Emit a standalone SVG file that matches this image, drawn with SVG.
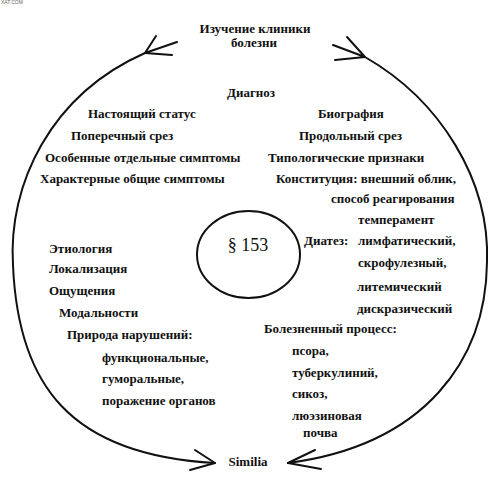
<svg xmlns="http://www.w3.org/2000/svg" width="500" height="477" viewBox="0 0 500 477">
<style>
.t{font-family:"Liberation Serif","Times New Roman",serif;font-size:13px;font-weight:bold;fill:#111}
.c{text-anchor:middle}
.ln{fill:none;stroke:#111;stroke-width:2;stroke-linecap:round}
.wm{font-family:"Liberation Sans",sans-serif;font-size:5px;fill:#666}
</style>
<rect width="500" height="477" fill="#fff"/>
<text class="wm" x="1" y="4">XAT.COM</text>
<g id="connectors">
<path class="ln" d="M145,53 C50,95 8,185 13,265 C18,385 70,455 215,463"/>
<path class="ln" d="M145,53 L156,36 M145,53 L177,42 M145,53 L172,55"/>
<path class="ln" d="M365,57 C440,100 490,180 487,262 C486,360 425,445 288,463"/>
<path class="ln" d="M365,57 L347,37 M365,57 L333,45 M365,57 L335,60"/>
<path class="ln" d="M215,463 L195,450 M215,463 L190,470"/>
<path class="ln" d="M288,463 L315,450 M288,463 L321,469"/>
</g>
<g id="top">
<text class="t c" x="255" y="33">Изучение клиники</text>
<text class="t c" x="254" y="47">болезни</text>
</g>
<g id="diagnosis"><text class="t c" x="251" y="97">Диагноз</text></g>
<g id="center">
<ellipse cx="248.5" cy="254.5" rx="51.5" ry="43.5" class="ln"/>
<text x="248" y="251" text-anchor="middle" style="font-family:'Liberation Serif','Times New Roman',serif;font-size:18px;fill:#111">§ 153</text>
</g>
<g id="left-top">
<text class="t" x="88" y="118">Настоящий статус</text>
<text class="t" x="71" y="140">Поперечный срез</text>
<text class="t" x="45" y="162">Особенные отдельные симптомы</text>
<text class="t" x="40" y="183">Характерные общие симптомы</text>
</g>
<g id="right-top">
<text class="t" x="318" y="118">Биография</text>
<text class="t" x="299" y="140">Продольный срез</text>
<text class="t" x="268" y="162">Типологические признаки</text>
<text class="t" x="276" y="183">Конституция: внешний облик,</text>
<text class="t" x="331" y="203">способ реагирования</text>
<text class="t" x="358" y="224">темперамент</text>
<text class="t" x="304" y="245">Диатез:</text>
<text class="t" x="358" y="245">лимфатический,</text>
<text class="t" x="358" y="267">скрофулезный,</text>
<text class="t" x="357" y="291">литемический</text>
<text class="t" x="357" y="313">дискразический</text>
</g>
<g id="left-bottom">
<text class="t" x="49" y="253">Этиология</text>
<text class="t" x="49" y="273">Локализация</text>
<text class="t" x="49" y="295">Ощущения</text>
<text class="t" x="59" y="317">Модальности</text>
<text class="t" x="67" y="339">Природа нарушений:</text>
<text class="t" x="102" y="362">функциональные,</text>
<text class="t" x="102" y="383">гуморальные,</text>
<text class="t" x="102" y="405">поражение органов</text>
</g>
<g id="right-bottom">
<text class="t" x="264" y="333">Болезненный процесс:</text>
<text class="t" x="292" y="355">псора,</text>
<text class="t" x="292" y="377">туберкулиний,</text>
<text class="t" x="292" y="398">сикоз,</text>
<text class="t" x="292" y="420">люэзиновая</text>
<text class="t" x="303" y="437">почва</text>
</g>
<g id="similia"><text class="t c" x="248" y="466">Similia</text></g>
</svg>
